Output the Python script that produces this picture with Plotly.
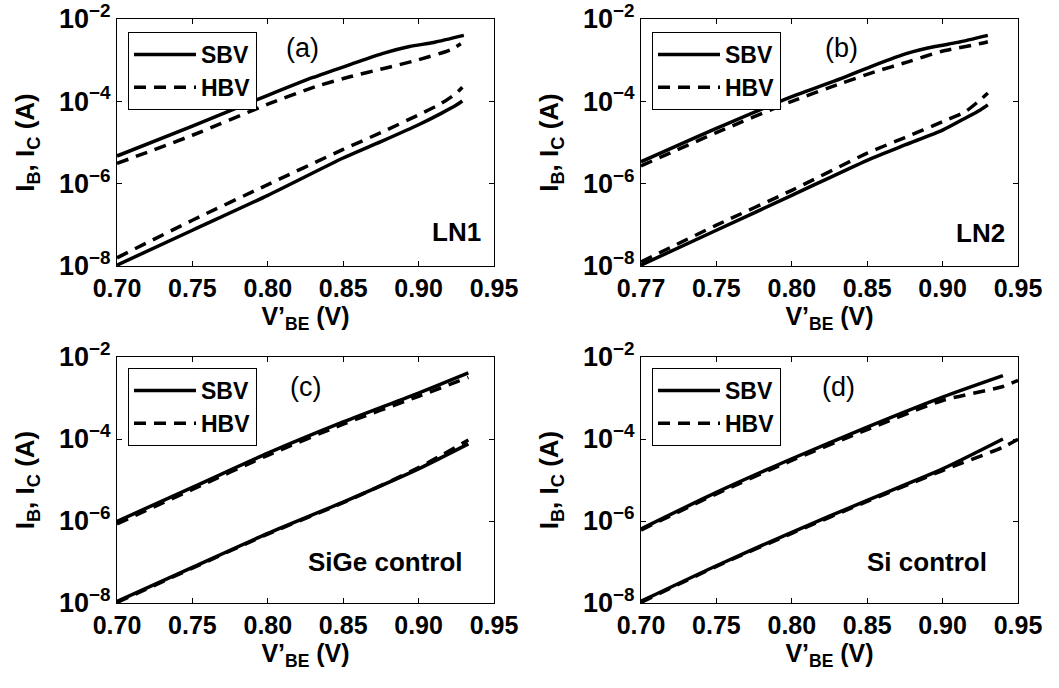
import plotly.graph_objects as go

# ---------------- data (V'BE in volts, currents in amperes) ----------------
# Panel (a) LN1
A_V_SBV_IC = [0.70, 0.75, 0.80, 0.83, 0.855, 0.877, 0.894, 0.91, 0.93]
A_SBV_IC = [4.7e-6, 2.5e-5, 1.4e-4, 3.8e-4, 7.9e-4, 1.48e-3, 2.14e-3, 2.7e-3, 4.0e-3]
A_V_HBV_IC = [0.70, 0.75, 0.80, 0.832, 0.855, 0.877, 0.899, 0.921, 0.928]
A_HBV_IC = [3.1e-6, 1.5e-5, 8.5e-5, 2.3e-4, 4.0e-4, 6.3e-4, 1.0e-3, 1.78e-3, 2.5e-3]
A_V_IB = [0.70, 0.75, 0.80, 0.85, 0.875, 0.90, 0.915, 0.925, 0.929]
A_SBV_IB = [1.05e-8, 7.4e-8, 5.2e-7, 4.2e-6, 1.05e-5, 2.7e-5, 5.1e-5, 8.1e-5, 1.02e-4]
A_HBV_IB = [1.58e-8, 1.29e-7, 9.5e-7, 6.8e-6, 1.74e-5, 4.7e-5, 8.9e-5, 1.58e-4, 2.2e-4]

# Panel (b) LN2
B_V_SBV_IC = [0.70, 0.75, 0.80, 0.833, 0.855, 0.877, 0.895, 0.91, 0.93]
B_SBV_IC = [3.4e-6, 2.2e-5, 1.3e-4, 3.6e-4, 7.6e-4, 1.48e-3, 2.14e-3, 2.7e-3, 4.0e-3]
B_V_HBV_IC = [0.70, 0.75, 0.80, 0.833, 0.855, 0.877, 0.899, 0.926, 0.93]
B_HBV_IC = [2.7e-6, 1.74e-5, 1.0e-4, 2.75e-4, 5.2e-4, 9.1e-4, 1.62e-3, 2.57e-3, 2.8e-3]
B_V_IB = [0.70, 0.75, 0.80, 0.85, 0.875, 0.90, 0.915, 0.925, 0.93]
B_SBV_IB = [1.05e-8, 7.4e-8, 5.2e-7, 3.7e-6, 8.7e-6, 2.0e-5, 3.9e-5, 6.2e-5, 8.2e-5]
B_HBV_IB = [1.26e-8, 9.8e-8, 6.9e-7, 5.5e-6, 1.32e-5, 3.2e-5, 5.6e-5, 1.09e-4, 1.6e-4]

# Panel (c) SiGe control
C_V = [0.70, 0.75, 0.80, 0.85, 0.90, 0.933]
C_SBV_IC = [9.8e-7, 6.6e-6, 4.5e-5, 2.6e-4, 1.32e-3, 4.1e-3]
C_HBV_IC = [8.5e-7, 5.9e-6, 4.0e-5, 2.3e-4, 1.1e-3, 3.2e-3]
C_SBV_IB = [1.1e-8, 7.4e-8, 5.0e-7, 2.9e-6, 1.87e-5, 7.6e-5]
C_HBV_IB = [1.03e-8, 7.1e-8, 4.8e-7, 2.8e-6, 2.0e-5, 9.5e-5]

# Panel (d) Si control
D_V_SBV = [0.70, 0.75, 0.80, 0.85, 0.90, 0.94]
D_V_HBV = [0.70, 0.75, 0.80, 0.85, 0.90, 0.94, 0.95]
D_SBV_IC = [6.4e-7, 5.0e-6, 3.3e-5, 1.95e-4, 1.05e-3, 3.5e-3]
D_HBV_IC = [6.0e-7, 4.6e-6, 3.0e-5, 1.7e-4, 8.7e-4, 1.91e-3, 2.7e-3]
D_SBV_IB = [1.1e-8, 8.1e-8, 5.3e-7, 3.2e-6, 1.87e-5, 1.0e-4]
D_HBV_IB = [1.03e-8, 7.8e-8, 5.0e-7, 3.0e-6, 1.7e-5, 6.3e-5, 9.8e-5]

X_TICKVALS = [0.70, 0.75, 0.80, 0.85, 0.90, 0.95]
X_TICKTEXT = ["0.70", "0.75", "0.80", "0.85", "0.90", "0.95"]
X_TICKTEXT_B = ["0.77", "0.75", "0.80", "0.85", "0.90", "0.95"]
Y_TICKVALS = [1e-8, 1e-6, 1e-4, 1e-2]
Y_TICKTEXT = ["10<sup>\u22128</sup>", "10<sup>\u22126</sup>", "10<sup>\u22124</sup>", "10<sup>\u22122</sup>"]

PANEL_LABELS = ["(a)", "(b)", "(c)", "(d)"]
SAMPLE_LABELS = ["LN1", "LN2", "SiGe control", "Si control"]
SERIES_NAMES = ["SBV", "HBV"]

# ---------------- figure ----------------
FONT = "Liberation Sans, Arial, Helvetica, sans-serif"
W, H = 1059, 688
fig = go.Figure()

panels = [
    dict(ic=[(A_V_SBV_IC, A_SBV_IC), (A_V_HBV_IC, A_HBV_IC)], ib=[(A_V_IB, A_SBV_IB), (A_V_IB, A_HBV_IB)]),
    dict(ic=[(B_V_SBV_IC, B_SBV_IC), (B_V_HBV_IC, B_HBV_IC)], ib=[(B_V_IB, B_SBV_IB), (B_V_IB, B_HBV_IB)]),
    dict(ic=[(C_V, C_SBV_IC), (C_V, C_HBV_IC)], ib=[(C_V, C_SBV_IB), (C_V, C_HBV_IB)]),
    dict(ic=[(D_V_SBV, D_SBV_IC), (D_V_HBV, D_HBV_IC)], ib=[(D_V_SBV, D_SBV_IB), (D_V_HBV, D_HBV_IB)]),
]

# pixel boxes of the plot areas (left, right, top, bottom)
boxes = [(117, 494, 19, 266), (641, 1018, 19, 266), (117, 494, 357, 603), (641, 1018, 357, 603)]
legend_pos = [(128, 32), (652, 32), (128, 368), (652, 368)]

styles = [dict(color="black", width=3.5), dict(color="black", width=3.5, dash="12px,8px")]

for i, p in enumerate(panels):
    n = "" if i == 0 else str(i + 1)
    xa, ya = "x" + n, "y" + n
    lg = "legend" + n
    for s in range(2):
        xv, yv = p["ic"][s]
        fig.add_trace(go.Scatter(x=xv, y=yv, mode="lines", name=SERIES_NAMES[s],
                                 line=dict(shape="spline", smoothing=0.7, **styles[s]),
                                 xaxis=xa, yaxis=ya, legend=lg, showlegend=True))
    for s in range(2):
        xv, yv = p["ib"][s]
        fig.add_trace(go.Scatter(x=xv, y=yv, mode="lines", name=SERIES_NAMES[s],
                                 line=dict(shape="spline", smoothing=0.7, **styles[s]),
                                 xaxis=xa, yaxis=ya, legend=lg, showlegend=False))

layout = dict(width=W, height=H, margin=dict(l=0, r=0, t=0, b=0, pad=0, autoexpand=False),
              paper_bgcolor="white", plot_bgcolor="white",
              font=dict(family=FONT, color="black", size=24))

for i in range(4):
    n = "" if i == 0 else str(i + 1)
    l, r, t, b = boxes[i]
    layout["xaxis" + n] = dict(
        domain=[l / W, r / W], anchor="y" + n, range=[0.70, 0.95], automargin=False,
        tickmode="array", tickvals=X_TICKVALS,
        ticktext=X_TICKTEXT_B if i == 1 else X_TICKTEXT,
        ticks="inside", ticklen=5, tickwidth=1, tickcolor="black",
        showline=True, linecolor="black", linewidth=1, mirror="ticks",
        showgrid=False, zeroline=False,
        tickfont=dict(size=25, weight="bold", family=FONT, color="black"),
        title=dict(text="V\u2019<sub>BE</sub> (V)", font=dict(size=25, weight="bold", family=FONT, color="black"), standoff=2),
    )
    layout["yaxis" + n] = dict(
        domain=[(H - b) / H, (H - t) / H], anchor="x" + n, type="log", range=[-8, -2], automargin=False,
        tickmode="array", tickvals=Y_TICKVALS, ticktext=Y_TICKTEXT,
        ticks="inside", ticklen=5, tickwidth=1, tickcolor="black",
        showline=True, linecolor="black", linewidth=1, mirror="ticks",
        showgrid=False, zeroline=False,
        tickfont=dict(size=27, weight="bold", family=FONT, color="black"),
        title=dict(text="I<sub>B</sub>, I<sub>C</sub> (A)", font=dict(size=26, weight="bold", family=FONT, color="black"), standoff=16),
    )
    lx, ly = legend_pos[i]
    layout["legend" + n] = dict(
        x=lx / W, y=(H - ly) / H, xanchor="left", yanchor="top", xref="paper", yref="paper",
        bordercolor="black", borderwidth=1, bgcolor="white",
        font=dict(size=23, weight="bold", family=FONT, color="black"),
        itemwidth=62, tracegroupgap=0,
    )

annotations = []
for i in range(4):
    n = "" if i == 0 else str(i + 1)
    lab_x = [0.493, 0.531, 0.499, 0.525][i]
    lab_y = [0.883, 0.883, 0.878, 0.878][i]
    annotations.append(dict(text=PANEL_LABELS[i], xref="x" + n + " domain", yref="y" + n + " domain",
                            x=lab_x, y=lab_y, xanchor="center", yanchor="middle", showarrow=False,
                            font=dict(size=27, family=FONT, color="black")))
    sx = [0.971, 0.971, 0.923, 0.923][i]
    sy = [0.138, 0.134, 0.167, 0.167][i]
    annotations.append(dict(text=SAMPLE_LABELS[i], xref="x" + n + " domain", yref="y" + n + " domain",
                            x=sx, y=sy, xanchor="right", yanchor="middle", showarrow=False,
                            font=dict(size=26, weight="bold", family=FONT, color="black")))
layout["annotations"] = annotations

fig.update_layout(**layout)
fig.write_html("out.html")
